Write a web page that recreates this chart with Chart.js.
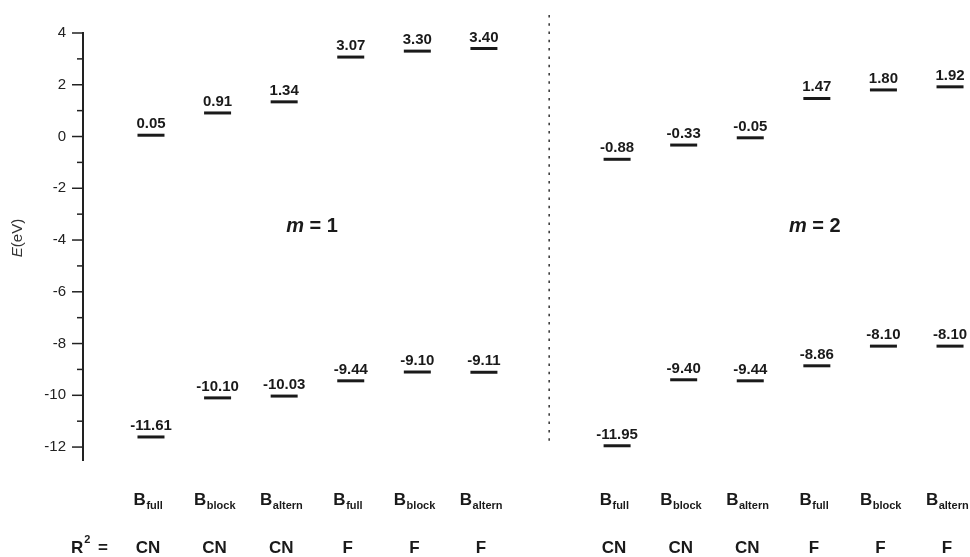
<!DOCTYPE html>
<html>
<head>
<meta charset="utf-8">
<script src="https://cdn.jsdelivr.net/npm/chart.js@4.4.1/dist/chart.umd.min.js"></script>
<style>
  html, body { margin: 0; padding: 0; background: #fff; }
  #wrap { width: 970px; height: 557px; }
</style>
</head>
<body>
<div id="wrap"><canvas id="grafico" width="970" height="557"></canvas></div>
<script>
// categorías (posición 6 queda vacía: separa m = 1 de m = 2)
const posiciones = [0, 1, 2, 3, 4, 5, 7, 8, 9, 10, 11, 12];
const subindices = ['full', 'block', 'altern', 'full', 'block', 'altern',
                    'full', 'block', 'altern', 'full', 'block', 'altern'];
const tipoR2 = ['CN', 'CN', 'CN', 'F', 'F', 'F', 'CN', 'CN', 'CN', 'F', 'F', 'F'];

// niveles de energía (eV)
const nivelSuperior = [0.05, 0.91, 1.34, 3.07, 3.30, 3.40, -0.88, -0.33, -0.05, 1.47, 1.80, 1.92];
const nivelInferior = [-11.61, -10.10, -10.03, -9.44, -9.10, -9.11, -11.95, -9.40, -9.44, -8.86, -8.10, -8.10];

// marcas del eje y
const ticksY = [-12, -11, -10, -9, -8, -7, -6, -5, -4, -3, -2, -1, 0, 1, 2, 3, 4];

const fuente = 'Arial, "Liberation Sans", sans-serif';
const colorTexto = '#1a1a1a';

function puntos(valores) {
  return posiciones.map((x, i) => ({ x: x, y: valores[i] }));
}

// Dibuja marcas, separador, etiquetas y textos
const extras = {
  id: 'extras',
  afterDraw(chart) {
    const c = chart.ctx;
    const xs = chart.scales.x;
    const ys = chart.scales.y;
    const area = chart.chartArea;
    c.save();

    // marcas mayores y menores del eje y
    c.strokeStyle = '#222';
    c.lineWidth = 1.5;
    ticksY.forEach(v => {
      const y = ys.getPixelForValue(v);
      const largo = v % 2 === 0 ? 11 : 6;
      c.beginPath();
      c.moveTo(area.left - largo, y);
      c.lineTo(area.left, y);
      c.stroke();
    });

    // línea punteada entre grupos
    const xSep = xs.getPixelForValue(5.98);
    c.setLineDash([2.5, 5.8]);
    c.strokeStyle = '#333';
    c.lineWidth = 1.5;
    c.beginPath();
    c.moveTo(xSep, ys.getPixelForValue(4.7));
    c.lineTo(xSep, ys.getPixelForValue(-11.85));
    c.stroke();
    c.setLineDash([]);

    // valores sobre cada nivel
    c.fillStyle = colorTexto;
    c.font = 'bold 15px ' + fuente;
    c.textAlign = 'center';
    c.textBaseline = 'alphabetic';
    chart.data.datasets.forEach((ds, i) => {
      chart.getDatasetMeta(i).data.forEach((el, j) => {
        c.fillText(ds.data[j].y.toFixed(2), el.x, el.y - 7);
      });
    });

    // m = 1 / m = 2
    c.textAlign = 'left';
    [{ n: '1', x: 2.42 }, { n: '2', x: 9.97 }].forEach(g => {
      c.font = 'italic bold 20px ' + fuente;
      const wm = c.measureText('m').width;
      c.font = 'bold 20px ' + fuente;
      const resto = ' = ' + g.n;
      const wr = c.measureText(resto).width;
      const x0 = xs.getPixelForValue(g.x) - (wm + wr) / 2;
      const y0 = ys.getPixelForValue(-3.7);
      c.font = 'italic bold 20px ' + fuente;
      c.fillText('m', x0, y0);
      c.font = 'bold 20px ' + fuente;
      c.fillText(resto, x0 + wm, y0);
    });

    // etiquetas de categoría B con subíndice y fila R²
    posiciones.forEach((p, i) => {
      const cx = xs.getPixelForValue(p) - 3;
      c.font = 'bold 17px ' + fuente;
      const wb = c.measureText('B').width;
      c.font = 'bold 11px ' + fuente;
      const ws = c.measureText(subindices[i]).width;
      const x0 = cx - (wb + ws) / 2;
      c.font = 'bold 17px ' + fuente;
      c.fillText('B', x0, area.bottom + 45);
      c.font = 'bold 11px ' + fuente;
      c.fillText(subindices[i], x0 + wb + 0.5, area.bottom + 49);

      c.font = 'bold 17px ' + fuente;
      c.textAlign = 'center';
      c.fillText(tipoR2[i], cx, area.bottom + 93);
      c.textAlign = 'left';
    });

    // R² =
    c.font = 'bold 17px ' + fuente;
    c.fillText('R', 71, area.bottom + 93);
    const wR = c.measureText('R').width;
    c.font = 'bold 11px ' + fuente;
    c.fillText('2', 71 + wR + 1, area.bottom + 83);
    c.font = 'bold 17px ' + fuente;
    c.fillText('=', 98, area.bottom + 93);

    // título eje y: E(eV)
    c.translate(18, 238);
    c.rotate(-Math.PI / 2);
    c.font = 'italic 15px ' + fuente;
    const we = c.measureText('E').width;
    c.font = '15px ' + fuente;
    const wv = c.measureText('(eV)').width;
    c.fillStyle = '#333';
    c.textBaseline = 'middle';
    c.font = 'italic 15px ' + fuente;
    c.fillText('E', -(we + wv) / 2, 0);
    c.font = '15px ' + fuente;
    c.fillText('(eV)', -(we + wv) / 2 + we, 0);

    c.restore();
  }
};

const estiloNivel = {
  pointStyle: 'line',
  pointRadius: 13.5,
  pointHoverRadius: 13.5,
  pointBorderWidth: 3,
  pointHoverBorderWidth: 3,
  borderColor: colorTexto,
  backgroundColor: colorTexto
};

const chart = new Chart(document.getElementById('grafico'), {
  type: 'scatter',
  data: {
    datasets: [
      Object.assign({ label: 'superior', data: puntos(nivelSuperior) }, estiloNivel),
      Object.assign({ label: 'inferior', data: puntos(nivelInferior) }, estiloNivel)
    ]
  },
  options: {
    responsive: false,
    animation: false,
    events: [],
    layout: { autoPadding: false, padding: { top: 33, bottom: 97, left: 0, right: 0 } },
    plugins: {
      legend: { display: false },
      tooltip: { enabled: false }
    },
    scales: {
      x: {
        type: 'linear',
        min: -1.021,
        max: 12.3,
        display: false
      },
      y: {
        type: 'linear',
        min: -12.5,
        max: 4,
        afterBuildTicks: scale => {
          scale.ticks = ticksY.map(v => ({ value: v }));
        },
        afterFit: scale => { scale.width = 83; },
        ticks: {
          padding: 6,
          color: '#222',
          font: { family: fuente, size: 15 },
          callback: v => (v % 2 === 0 ? String(v) : '')
        },
        grid: {
          drawOnChartArea: false,
          drawTicks: true,
          tickLength: 11,
          tickColor: 'rgba(0,0,0,0)'
        },
        border: { display: true, color: '#222', width: 2 }
      }
    }
  },
  plugins: [extras]
});
</script>
</body>
</html>
